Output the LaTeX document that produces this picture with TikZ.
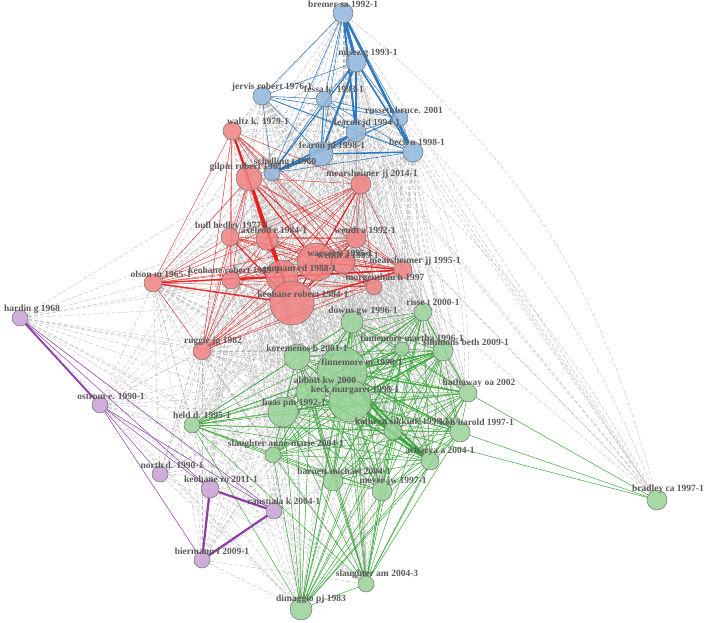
\documentclass[tikz,border=0pt]{standalone}
\usepackage{fontspec}
\setmainfont{Liberation Serif}
\usepackage{tikz}
\usetikzlibrary{backgrounds}

\definecolor{redfill}{RGB}{240,128,128}
\definecolor{bluefill}{RGB}{143,182,221}
\definecolor{greenfill}{RGB}{152,210,152}
\definecolor{purplefill}{RGB}{199,160,214}
\definecolor{edgered}{RGB}{232,30,30}
\definecolor{edgeblue}{RGB}{45,120,190}
\definecolor{edgegreen}{RGB}{60,170,60}
\definecolor{edgepurple}{RGB}{145,60,170}
\definecolor{edgegray}{RGB}{185,185,185}
\definecolor{labelgray}{RGB}{90,90,90}

% clusters
\def\Blue{bremer,misez,jervis,fessa,russett,fearonA,fearonB,beck,schelling}
\def\Red{waltz,gilpin,mearsB,bull,axelrod,wendtA,wendtB,rA,putnam,olson,keohaneB,mearsA,morgen,keohaneA,ruggie}
\def\Green{downs,risse,finneA,simmons,koremenos,finneB,abbott,keck,haas,hathaway,sikkink,koh,acharya,barnett,meyer,slaughterA,held,slaughterB,dimaggio}
\def\Purple{hardin,ostrom,north,keohaneC,raustiala,biermann}

\begin{document}
\begin{tikzpicture}[x=1pt,y=-1pt]

\tikzset{
  vtx/.style={circle, inner sep=0pt, draw=black!55, line width=0.5pt, fill opacity=0.85},
  rv/.style={vtx, fill=redfill},
  bv/.style={vtx, fill=bluefill},
  gv/.style={vtx, fill=greenfill},
  pv/.style={vtx, fill=purplefill},
  lbl/.style={font=\fontsize{9.5}{10}\selectfont\bfseries, text=labelgray, inner sep=0pt},
  gedge/.style={draw=edgegray, dash pattern=on 4pt off 2pt, line width=0.35pt},
  redge/.style={draw=edgered, line width=0.45pt, draw opacity=0.85},
  bedge/.style={draw=edgeblue, line width=0.5pt},
  grn edge/.style={draw=edgegreen, line width=0.5pt},
  pedge/.style={draw=edgepurple, line width=0.5pt}
}

\useasboundingbox (0,0) rectangle (708,622);

% blue
\node[bv, minimum size=20pt] (bremer) at (343,13) {};
\node[bv, minimum size=20pt] (misez) at (356,62) {};
\node[bv, minimum size=18pt] (jervis) at (262,96) {};
\node[bv, minimum size=16pt] (fessa) at (324,99) {};
\node[bv, minimum size=16pt] (russett) at (400,118) {};
\node[bv, minimum size=20pt] (fearonA) at (356,132) {};
\node[bv, minimum size=24pt] (fearonB) at (321,154) {};
\node[bv, minimum size=20pt] (beck) at (413,152) {};
\node[bv, minimum size=16pt] (schelling) at (272,173) {};

% red
\node[rv, minimum size=18pt] (waltz) at (232,131) {};
\node[rv, minimum size=26pt] (gilpin) at (249,178) {};
\node[rv, minimum size=20pt] (mearsB) at (361,184) {};
\node[rv, minimum size=18pt] (bull) at (230,237) {};
\node[rv, minimum size=22pt] (axelrod) at (267,239) {};
\node[rv, minimum size=20pt] (wendtA) at (356,238) {};
\node[rv, minimum size=38pt] (wendtB) at (316,262) {};
\node[rv, minimum size=24pt] (rA) at (343,262) {};
\node[rv, minimum size=32pt] (putnam) at (282,276) {};
\node[rv, minimum size=18pt] (olson) at (153,283) {};
\node[rv, minimum size=18pt] (keohaneB) at (231,280) {};
\node[rv, minimum size=18pt] (mearsA) at (403,270) {};
\node[rv, minimum size=16pt] (morgen) at (374,287) {};
\node[rv, minimum size=44pt] (keohaneA) at (292,303) {};
\node[rv, minimum size=18pt] (ruggie) at (202,351) {};

% purple
\node[pv, minimum size=16pt] (hardin) at (20,318) {};
\node[pv, minimum size=16pt] (ostrom) at (100,405) {};
\node[pv, minimum size=16pt] (north) at (160,474) {};
\node[pv, minimum size=18pt] (keohaneC) at (210,489) {};
\node[pv, minimum size=16pt] (raustiala) at (274,511) {};
\node[pv, minimum size=16pt] (biermann) at (202,560) {};

% green
\node[gv, minimum size=22pt] (downs) at (352,322) {};
\node[gv, minimum size=18pt] (risse) at (423,312) {};
\node[gv, minimum size=14pt] (finneA) at (402,349) {};
\node[gv, minimum size=20pt] (simmons) at (443,351) {};
\node[gv, minimum size=26pt] (koremenos) at (297,357) {};
\node[gv, minimum size=50pt] (finneB) at (342,372) {};
\node[gv, minimum size=30pt] (abbott) at (311,392) {};
\node[gv, minimum size=42pt] (keck) at (350,401) {};
\node[gv, minimum size=30pt] (haas) at (283,412) {};
\node[gv, minimum size=18pt] (hathaway) at (468,393) {};
\node[gv, minimum size=18pt] (sikkink) at (393,431) {};
\node[gv, minimum size=20pt] (koh) at (460,432) {};
\node[gv, minimum size=18pt] (acharya) at (430,461) {};
\node[gv, minimum size=20pt] (barnett) at (333,481) {};
\node[gv, minimum size=20pt] (meyer) at (382,491) {};
\node[gv, minimum size=16pt] (slaughterA) at (273,455) {};
\node[gv, minimum size=16pt] (held) at (192,425) {};
\node[gv, minimum size=16pt] (slaughterB) at (366,584) {};
\node[gv, minimum size=22pt] (dimaggio) at (301,609) {};
\node[gv, minimum size=20pt] (bradley) at (657,500) {};

\begin{scope}[on background layer]
% links between clusters
\foreach \a in \Red {\foreach \b in \Green {\draw[gedge] (\a) -- (\b);}}
\foreach \a in \Blue {\foreach \b in \Red {\draw[gedge] (\a) -- (\b);}}
\foreach \a in \Blue {\foreach \b in {downs,risse,simmons,finneA,hathaway,koh,acharya,meyer,slaughterB,bradley} {\draw[gedge] (\a) -- (\b);}}
\foreach \a in \Purple {\foreach \b in {olson,keohaneB,ruggie,keohaneA,putnam,gilpin,bull} {\draw[gedge] (\a) -- (\b);}}
\foreach \a in \Purple {\foreach \b in {held,haas,slaughterA,barnett,abbott,dimaggio,slaughterB,finneB,koremenos} {\draw[gedge] (\a) -- (\b);}}
\draw[gedge] (bremer) to[bend left=18] (bradley);
\draw[gedge] (misez) to[bend left=20] (hathaway);
\draw[gedge] (russett) to[bend left=12] (bradley);
\draw[gedge] (beck) to[bend left=15] (koh);
\draw[gedge] (fearonA) to[bend left=10] (bradley);

% red
\foreach \a [count=\i] in \Red {
  \foreach \b [count=\j] in \Red {
    \ifnum\j>\i \draw[redge] (\a) -- (\b); \fi
  }
}
\foreach \a/\b/\w in {gilpin/keohaneA/3, gilpin/putnam/2, waltz/keohaneA/2, waltz/gilpin/1.5,
  gilpin/axelrod/1.5, gilpin/wendtB/1.2, keohaneA/olson/1.5, keohaneA/mearsA/1.5,
  putnam/mearsA/1.2, wendtB/mearsA/1.2, keohaneB/mearsA/1.2, mearsB/keohaneA/1.2,
  wendtA/keohaneA/1.2, bull/keohaneA/1.2, olson/putnam/1.2, axelrod/keohaneA/1.5}
  \draw[redge, line width=\w pt] (\a) -- (\b);

% blue
\foreach \a [count=\i] in \Blue {
  \foreach \b [count=\j] in \Blue {
    \ifnum\j>\i \draw[bedge] (\a) -- (\b); \fi
  }
}
\foreach \a/\b/\w in {bremer/misez/3, bremer/fearonA/2, bremer/beck/2.5, misez/fearonA/2.5,
  misez/fearonB/2, misez/beck/1.5, fearonB/fearonA/1.5, fearonB/beck/1.5,
  fearonB/schelling/2.2, schelling/fearonA/1.5, misez/schelling/1, fessa/fearonB/1}
  \draw[bedge, line width=\w pt] (\a) -- (\b);

% green
\foreach \a [count=\i] in \Green {
  \foreach \b [count=\j] in \Green {
    \ifnum\j>\i \draw[grn edge] (\a) -- (\b); \fi
  }
}
\foreach \a/\b/\w in {finneB/sikkink/2, keck/acharya/2.5, keck/sikkink/2, finneB/acharya/2,
  sikkink/acharya/1.5, finneB/simmons/1.5, keck/simmons/1.5, finneB/koh/1.2,
  haas/keck/1.2, downs/finneB/1.2, finneB/hathaway/1.2, abbott/acharya/1.2}
  \draw[grn edge, line width=\w pt] (\a) -- (\b);
\draw[grn edge] (hathaway) -- (bradley);
\draw[grn edge] (koh) -- (bradley);
\draw[grn edge] (sikkink) -- (bradley);

% purple
\draw[pedge, line width=1.8pt] (hardin) -- (ostrom);
\draw[pedge] (hardin) -- (keohaneC);
\draw[pedge] (hardin) -- (raustiala);
\draw[pedge] (ostrom) -- (north);
\draw[pedge] (ostrom) -- (keohaneC);
\draw[pedge] (ostrom) -- (raustiala);
\draw[pedge] (ostrom) -- (biermann);
\draw[pedge, line width=2.2pt] (keohaneC) -- (raustiala);
\draw[pedge, line width=2.2pt] (keohaneC) -- (biermann);
\draw[pedge, line width=2.2pt] (raustiala) -- (biermann);
\end{scope}

% labels
\node[lbl] at (343,4) {bremer sa 1992-1};
\node[lbl] at (368,53) {misez g 1993-1};
\node[lbl] at (272,87) {jervis robert 1976-1};
\node[lbl] at (334,89) {fessa k. 1993-1};
\node[lbl] at (404,110) {russett bruce. 2001};
\node[lbl] at (367,123) {fearon jd 1994-1};
\node[lbl] at (332,146) {fearon jd 1998-1};
\node[lbl] at (417,142) {beck n 1998-1};
\node[lbl] at (285,162) {schelling t 1960};
\node[lbl] at (258,121) {waltz k. 1979-1};
\node[lbl] at (250,167) {gilpin robert 1981-1};
\node[lbl] at (372,174) {mearsheimer jj 2014-1};
\node[lbl] at (232,226) {bull hedley 1977-1};
\node[lbl] at (274,230) {axelrod r 1984-1};
\node[lbl] at (365,230) {wendt a 1992-1};
\node[lbl] at (340,253) {waever o 1995-1};
\node[lbl] at (348,255) {wendt a 1999-1};
\node[lbl] at (300,269) {putnam rd 1988-1};
\node[lbl] at (161,274) {olson m 1965-1};
\node[lbl] at (234,270) {keohane robert 1989-1};
\node[lbl] at (415,261) {mearsheimer jj 1995-1};
\node[lbl] at (385,278) {morgenthau h 1997};
\node[lbl] at (303,294) {keohane robert 1984-1};
\node[lbl] at (213,341) {ruggie jg 1982};
\node[lbl] at (32,309) {hardin g 1968};
\node[lbl] at (111,396) {ostrom e. 1990-1};
\node[lbl] at (172,465) {north d. 1990-1};
\node[lbl] at (221,479) {keohane ro 2011-1};
\node[lbl] at (284,501) {raustiala k 2004-1};
\node[lbl] at (212,551) {biermann f 2009-1};
\node[lbl] at (363,311) {downs gw 1996-1};
\node[lbl] at (433,302) {risse t 2000-1};
\node[lbl] at (412,338) {finnemore martha 1996-1};
\node[lbl] at (466,342) {simmons beth 2009-1};
\node[lbl] at (307,348) {koremenos b 2001-1};
\node[lbl] at (362,362) {finnemore m 1998-1};
\node[lbl] at (325,380) {abbott kw 2000};
\node[lbl] at (355,390) {keck margaret 1998-1};
\node[lbl] at (294,403) {haas pm 1992-1};
\node[lbl] at (479,383) {hathaway oa 2002};
\node[lbl] at (402,422) {kathryn sikkink 1998-1};
\node[lbl] at (477,422) {koh harold 1997-1};
\node[lbl] at (440,451) {acharya a 2004-1};
\node[lbl] at (344,471) {barnett michael 2004-1};
\node[lbl] at (393,481) {meyer jw 1997-1};
\node[lbl] at (286,444) {slaughter anne-marie 2004-1};
\node[lbl] at (202,415) {held d. 1995-1};
\node[lbl] at (377,574) {slaughter am 2004-3};
\node[lbl] at (311,599) {dimaggio pj 1983};
\node[lbl] at (668,489) {bradley ca 1997-1};

\end{tikzpicture}
\end{document}
